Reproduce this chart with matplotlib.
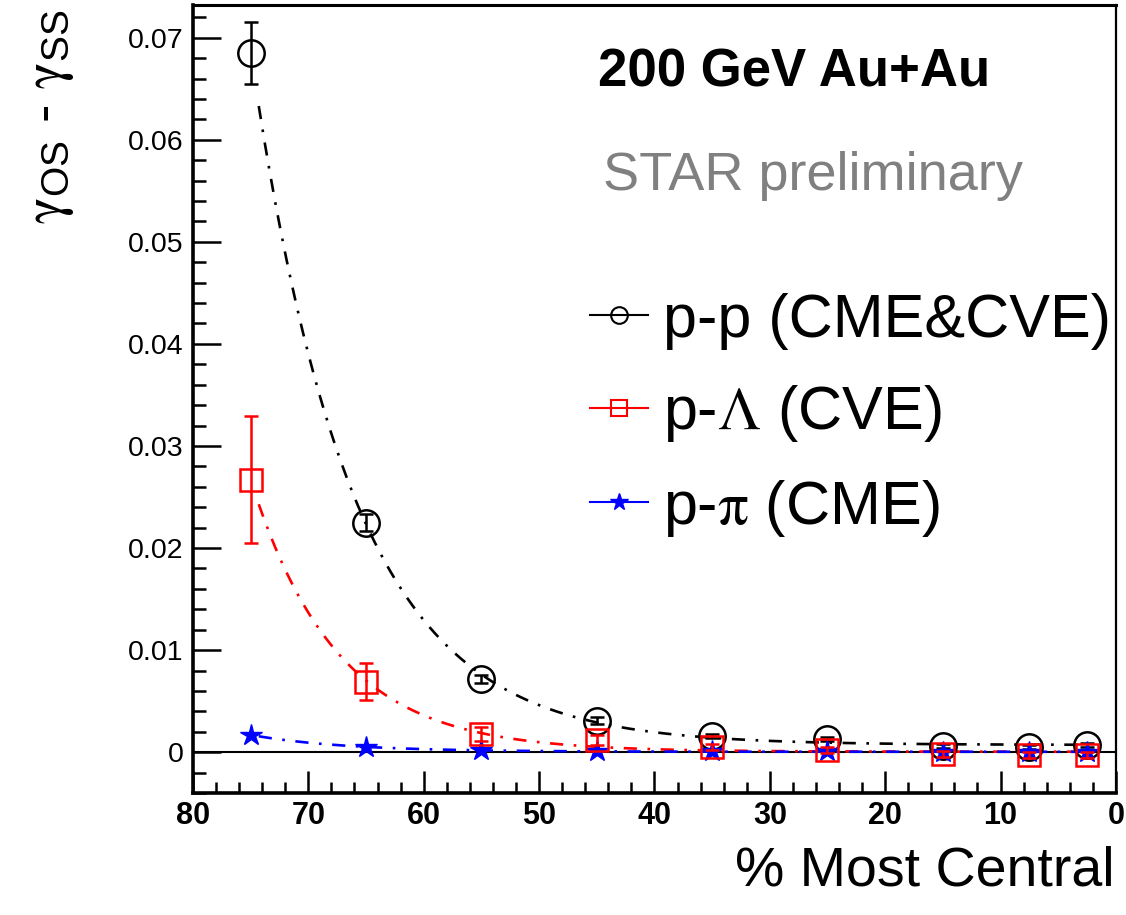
import numpy as np
import matplotlib
matplotlib.use("Agg")
import matplotlib.pyplot as plt
from matplotlib.lines import Line2D
from matplotlib.ticker import MultipleLocator

plt.rcParams['font.family'] = ['Liberation Sans', 'DejaVu Sans']
plt.rcParams['mathtext.fontset'] = 'stix'

# centrality bins (% most central)
cent = [75, 65, 55, 45, 35, 25, 15, 7.5, 2.5]

# gamma_OS - gamma_SS for each pair type
pp = [0.0685, 0.0225, 0.0072, 0.0031, 0.0016, 0.0013, 0.0006, 0.0005, 0.0007]
pp_err = [0.0030, 0.0008, 0.0004, 0.0003, 0.0002, 0.0002, 0.0002, 0.0002, 0.0002]

plam = [0.0267, 0.0069, 0.0018, 0.0012, 0.0005, 0.0002, -0.0002, -0.0003, -0.0003]
plam_err = [0.0062, 0.0018, 0.0007, 0.0005, 0.0003, 0.0003, 0.0003, 0.0003, 0.0003]

ppi = [0.0017, 0.0005, 0.0002, 0.0001, 0.0001, 0.0001, 0.0, 0.0, 0.0]
ppi_err = [0.0001, 0.0001, 0.0001, 0.0001, 0.0001, 0.0001, 0.0001, 0.0001, 0.0001]


def exp_fit(x, y):
    # y = A * exp((x - 75) / tau) + c, scan tau and solve A, c linearly
    x = np.asarray(x, float)
    y = np.asarray(y, float)
    best = None
    for tau in np.linspace(3, 25, 800):
        M = np.column_stack([np.exp((x - 75) / tau), np.ones_like(x)])
        coef = np.linalg.lstsq(M, y, rcond=None)[0]
        err = np.sum((M @ coef - y) ** 2)
        if best is None or err < best[0]:
            best = (err, tau, coef)
    _, tau, (a, c) = best
    return lambda t: a * np.exp((t - 75) / tau) + c


fig = plt.figure(figsize=(11.26, 9.15), dpi=100)
ax = fig.add_axes([0.1714, 0.1333, 0.8196, 0.8612])

xf = np.linspace(74.3, 3, 300)
dash = (5, 4, 1, 4)
for y, col in [(pp, 'black'), (plam, 'red'), (ppi, 'blue')]:
    f = exp_fit(cent, y)
    ax.plot(xf, f(xf), color=col, lw=1.9, dashes=dash, zorder=2)

ax.axhline(0, color='black', lw=1.5, zorder=1)

ax.errorbar(cent, pp, yerr=pp_err, fmt='o', ms=19, mfc='none', mec='black',
            mew=1.8, ecolor='black', elinewidth=1.8, capsize=5, capthick=1.8, zorder=3)
ax.errorbar(cent, ppi, yerr=ppi_err, fmt='*', ms=16, color='blue',
            elinewidth=1.5, capsize=3, zorder=4)
ax.errorbar(cent, plam, yerr=plam_err, fmt='s', ms=16, mfc='none', mec='red',
            mew=1.8, ecolor='red', elinewidth=1.8, capsize=5, capthick=1.8, zorder=5)

ax.set_xlim(80, 0)
ax.set_ylim(-0.004, 0.0732)
ax.xaxis.set_major_locator(MultipleLocator(10))
ax.xaxis.set_minor_locator(MultipleLocator(2))
ax.yaxis.set_major_locator(MultipleLocator(0.01))
ax.yaxis.set_minor_locator(MultipleLocator(0.002))
ax.yaxis.set_major_formatter(plt.FuncFormatter(lambda v, p: '0' if abs(v) < 1e-9 else f'{v:g}'))

ax.tick_params(axis='both', which='both', direction='in', top=False, right=False, width=1.8)
ax.tick_params(axis='y', which='major', length=20, labelsize=20.5, pad=7)
ax.tick_params(axis='y', which='minor', length=9)
ax.tick_params(axis='x', which='major', length=16, labelsize=22, pad=6)
ax.tick_params(axis='x', which='minor', length=8)
for lab in ax.get_xticklabels():
    lab.set_fontweight('bold')

for side, lw in [('left', 2.6), ('bottom', 2.6), ('top', 2.2), ('right', 1.6)]:
    ax.spines[side].set_linewidth(lw)

ax.text(0.4388, 0.915, '200 GeV Au+Au', transform=ax.transAxes, fontsize=38,
        fontweight='bold', va='center', ha='left')
ax.text(0.444, 0.783, 'STAR preliminary', transform=ax.transAxes, fontsize=39,
        color='#808080', va='center', ha='left')

handles = [
    Line2D([], [], color='black', lw=1.5, marker='o', ms=12, mfc='none', mew=1.5),
    Line2D([], [], color='red', lw=1.5, marker='s', ms=11, mfc='none', mew=1.5),
    Line2D([], [], color='blue', lw=1.5, marker='*', ms=13),
]
labels = ['p-p (CME&CVE)', r'p-$\Lambda$ (CVE)', r'p-$\mathrm{\pi}$ (CME)']
ax.legend(handles, labels, loc='upper left', bbox_to_anchor=(0.43, 0.635),
          frameon=False, fontsize=44, handlelength=0.95, handletextpad=0.25,
          labelspacing=0.55, borderpad=0, borderaxespad=0)

fig.text(50 / 1126, 1 - 10 / 915,
         r'$\mathrm{\gamma}_{\mathregular{OS}}$ - $\mathrm{\gamma}_{\mathregular{SS}}$',
         rotation=90, ha='center', va='top', fontsize=40)
fig.text(1115 / 1126, 1 - 872 / 915, '% Most Central', ha='right', va='center', fontsize=40)

fig.savefig('out.png', dpi=100)
